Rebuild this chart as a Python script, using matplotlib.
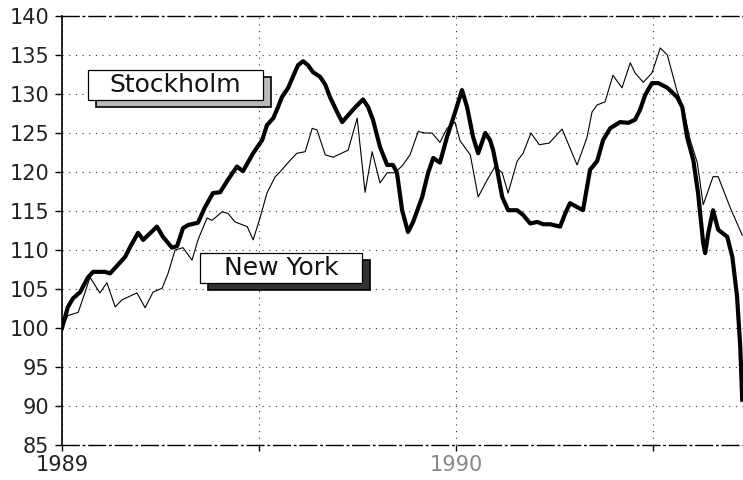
import matplotlib
matplotlib.use("Agg")
import matplotlib.pyplot as plt
from matplotlib.patches import Rectangle

# ── DATA ────────────────────────────────────────────────────
# Stock indices, start of 1989 = 100, time as decimal years
sthlm_t = [
    1989.000, 1989.015, 1989.028, 1989.046, 1989.066, 1989.079, 1989.109, 1989.122,
    1989.160, 1989.173, 1989.193, 1989.206, 1989.241, 1989.256, 1989.279, 1989.292,
    1989.307, 1989.320, 1989.345, 1989.363, 1989.383, 1989.401, 1989.421, 1989.444,
    1989.459, 1989.485, 1989.508, 1989.520, 1989.536, 1989.548, 1989.558, 1989.574,
    1989.591, 1989.599, 1989.612, 1989.624, 1989.637, 1989.655, 1989.668, 1989.680,
    1989.698, 1989.711, 1989.723, 1989.744, 1989.764, 1989.777, 1989.789, 1989.807,
    1989.825, 1989.840, 1989.850, 1989.863, 1989.878, 1989.891, 1989.914, 1989.929,
    1989.942, 1989.959, 1989.977, 1989.997, 1990.015, 1990.028, 1990.043, 1990.056,
    1990.074, 1990.086, 1990.094, 1990.104, 1990.117, 1990.132, 1990.155, 1990.170,
    1990.188, 1990.206, 1990.221, 1990.239, 1990.264, 1990.277, 1990.289, 1990.307,
    1990.322, 1990.340, 1990.358, 1990.373, 1990.391, 1990.416, 1990.437, 1990.454,
    1990.467, 1990.480, 1990.497, 1990.513, 1990.536, 1990.561, 1990.574, 1990.586,
    1990.602, 1990.614, 1990.627, 1990.632, 1990.640, 1990.652, 1990.665, 1990.688,
    1990.701, 1990.713, 1990.721, 1990.726,
]
sthlm_v = [
    100.0, 102.7, 103.8, 104.6, 106.5, 107.2, 107.2, 107.0,
    109.1, 110.4, 112.2, 111.3, 113.0, 111.7, 110.3, 110.5,
    112.8, 113.2, 113.5, 115.5, 117.3, 117.4, 119.0, 120.7,
    120.1, 122.4, 124.1, 126.0, 126.9, 128.3, 129.6, 130.8,
    132.8, 133.7, 134.2, 133.7, 132.8, 132.2, 131.2, 129.6,
    127.7, 126.4, 127.1, 128.3, 129.3, 128.3, 126.7, 123.2,
    120.9, 120.9, 119.9, 115.1, 112.3, 113.6, 116.8, 119.9,
    121.8, 121.2, 124.5, 127.6, 130.5, 128.3, 124.5, 122.4,
    125.0, 124.1, 122.8, 120.3, 116.8, 115.1, 115.1, 114.5,
    113.4, 113.6, 113.3, 113.3, 113.0, 114.7, 116.0, 115.5,
    115.1, 120.3, 121.4, 124.1, 125.6, 126.4, 126.3, 126.7,
    128.0, 129.9, 131.4, 131.4, 130.8, 129.6, 128.3, 124.5,
    121.5, 117.3, 110.9, 109.6, 112.2, 115.1, 112.6, 111.7,
    109.1, 104.0, 97.6, 90.8,
]

ny_t = [
    1989.000, 1989.015, 1989.041, 1989.058, 1989.071, 1989.096, 1989.114, 1989.135,
    1989.152, 1989.190, 1989.211, 1989.231, 1989.254, 1989.269, 1989.287, 1989.307,
    1989.330, 1989.345, 1989.368, 1989.381, 1989.406, 1989.421, 1989.439, 1989.470,
    1989.485, 1989.503, 1989.520, 1989.541, 1989.553, 1989.579, 1989.596, 1989.617,
    1989.635, 1989.647, 1989.668, 1989.688, 1989.726, 1989.749, 1989.769, 1989.787,
    1989.807, 1989.825, 1989.845, 1989.865, 1989.883, 1989.904, 1989.921, 1989.939,
    1989.959, 1989.977, 1989.997, 1990.010, 1990.036, 1990.056, 1990.079, 1990.099,
    1990.117, 1990.132, 1990.155, 1990.170, 1990.190, 1990.211, 1990.236, 1990.269,
    1990.307, 1990.332, 1990.345, 1990.358, 1990.378, 1990.398, 1990.421, 1990.442,
    1990.454, 1990.475, 1990.497, 1990.518, 1990.536, 1990.561, 1990.576, 1990.594,
    1990.612, 1990.627, 1990.652, 1990.665, 1990.695, 1990.726,
]
ny_v = [
    100.0, 101.6, 102.0, 104.5, 106.5, 104.5, 105.8, 102.7,
    103.6, 104.5, 102.6, 104.6, 105.1, 107.0, 110.0, 110.3,
    108.7, 111.3, 114.1, 113.8, 114.9, 114.7, 113.6, 113.0,
    111.3, 114.2, 117.3, 119.4, 120.0, 121.5, 122.4, 122.6,
    125.6, 125.4, 122.2, 121.9, 122.8, 126.9, 117.4, 122.6,
    118.6, 119.9, 119.9, 120.9, 122.2, 125.2, 125.0, 125.0,
    123.8, 125.6, 126.4, 124.0, 122.2, 116.8, 119.0, 120.7,
    119.9, 117.3, 121.4, 122.4, 125.0, 123.5, 123.7, 125.5,
    120.9, 124.4, 127.7, 128.6, 129.0, 132.4, 130.8, 134.0,
    132.7, 131.5, 132.7, 135.9, 135.0, 130.3, 128.3, 124.1,
    121.2, 115.8, 119.4, 119.4, 115.5, 111.9,
]

yticks = list(range(85, 141, 5))
xticks = [1989, 1989.5, 1990, 1990.5]
xlabels = ["1989", "", "1990", ""]

# ── CHART ───────────────────────────────────────────────────
plt.rcParams["font.family"] = "DejaVu Sans"
fig = plt.figure(figsize=(7.43, 4.8), dpi=100)
ax = fig.add_axes([62 / 743, 35 / 480, 681 / 743, 429 / 480])

ax.plot(ny_t, ny_v, color="black", lw=0.8, zorder=3)
ax.plot(sthlm_t, sthlm_v, color="black", lw=3.0, solid_joinstyle="round", zorder=4)

ax.set_xlim(1989, 1990.728)
ax.set_ylim(85, 140)
ax.set_yticks(yticks)
ax.set_xticks(xticks)
ax.set_xticklabels(xlabels)
ax.tick_params(axis="y", length=5, width=1, pad=4, labelsize=15, labelcolor="#222222")
ax.tick_params(axis="x", length=4, width=1, pad=3, labelsize=15, labelcolor="#222222")
ax.get_xticklabels()[2].set_color("#888888")

ax.grid(True, color="#333333", linestyle=(0, (1, 5)), linewidth=0.8)
ax.spines["right"].set_visible(False)
ax.spines["left"].set_linewidth(1.2)
for side in ["top", "bottom"]:
    ax.spines[side].set_linestyle((0, (12, 3, 1, 3)))
    ax.spines[side].set_linewidth(1.0)

# Label boxes with drop shadows
def label_box(x0, x1, y0, y1, text, shadow_fc, shadow_lw):
    dx, dy = 0.020, 0.9
    ax.add_patch(Rectangle((x0 + dx, y0 - dy), x1 - x0, y1 - y0, facecolor=shadow_fc,
                           edgecolor="black", lw=shadow_lw, zorder=6))
    ax.add_patch(Rectangle((x0, y0), x1 - x0, y1 - y0, facecolor="white",
                           edgecolor="black", lw=0.9, zorder=7))
    ax.text((x0 + x1) / 2, (y0 + y1) / 2, text, ha="center", va="center",
            fontsize=18, color="#111111", zorder=8)

label_box(1989.066, 1989.510, 129.2, 133.1, "Stockholm", "#bbbbbb", 1.2)
label_box(1989.350, 1989.761, 105.8, 109.6, "New York", "#333333", 1.2)

plt.savefig("out.png", dpi=100)
